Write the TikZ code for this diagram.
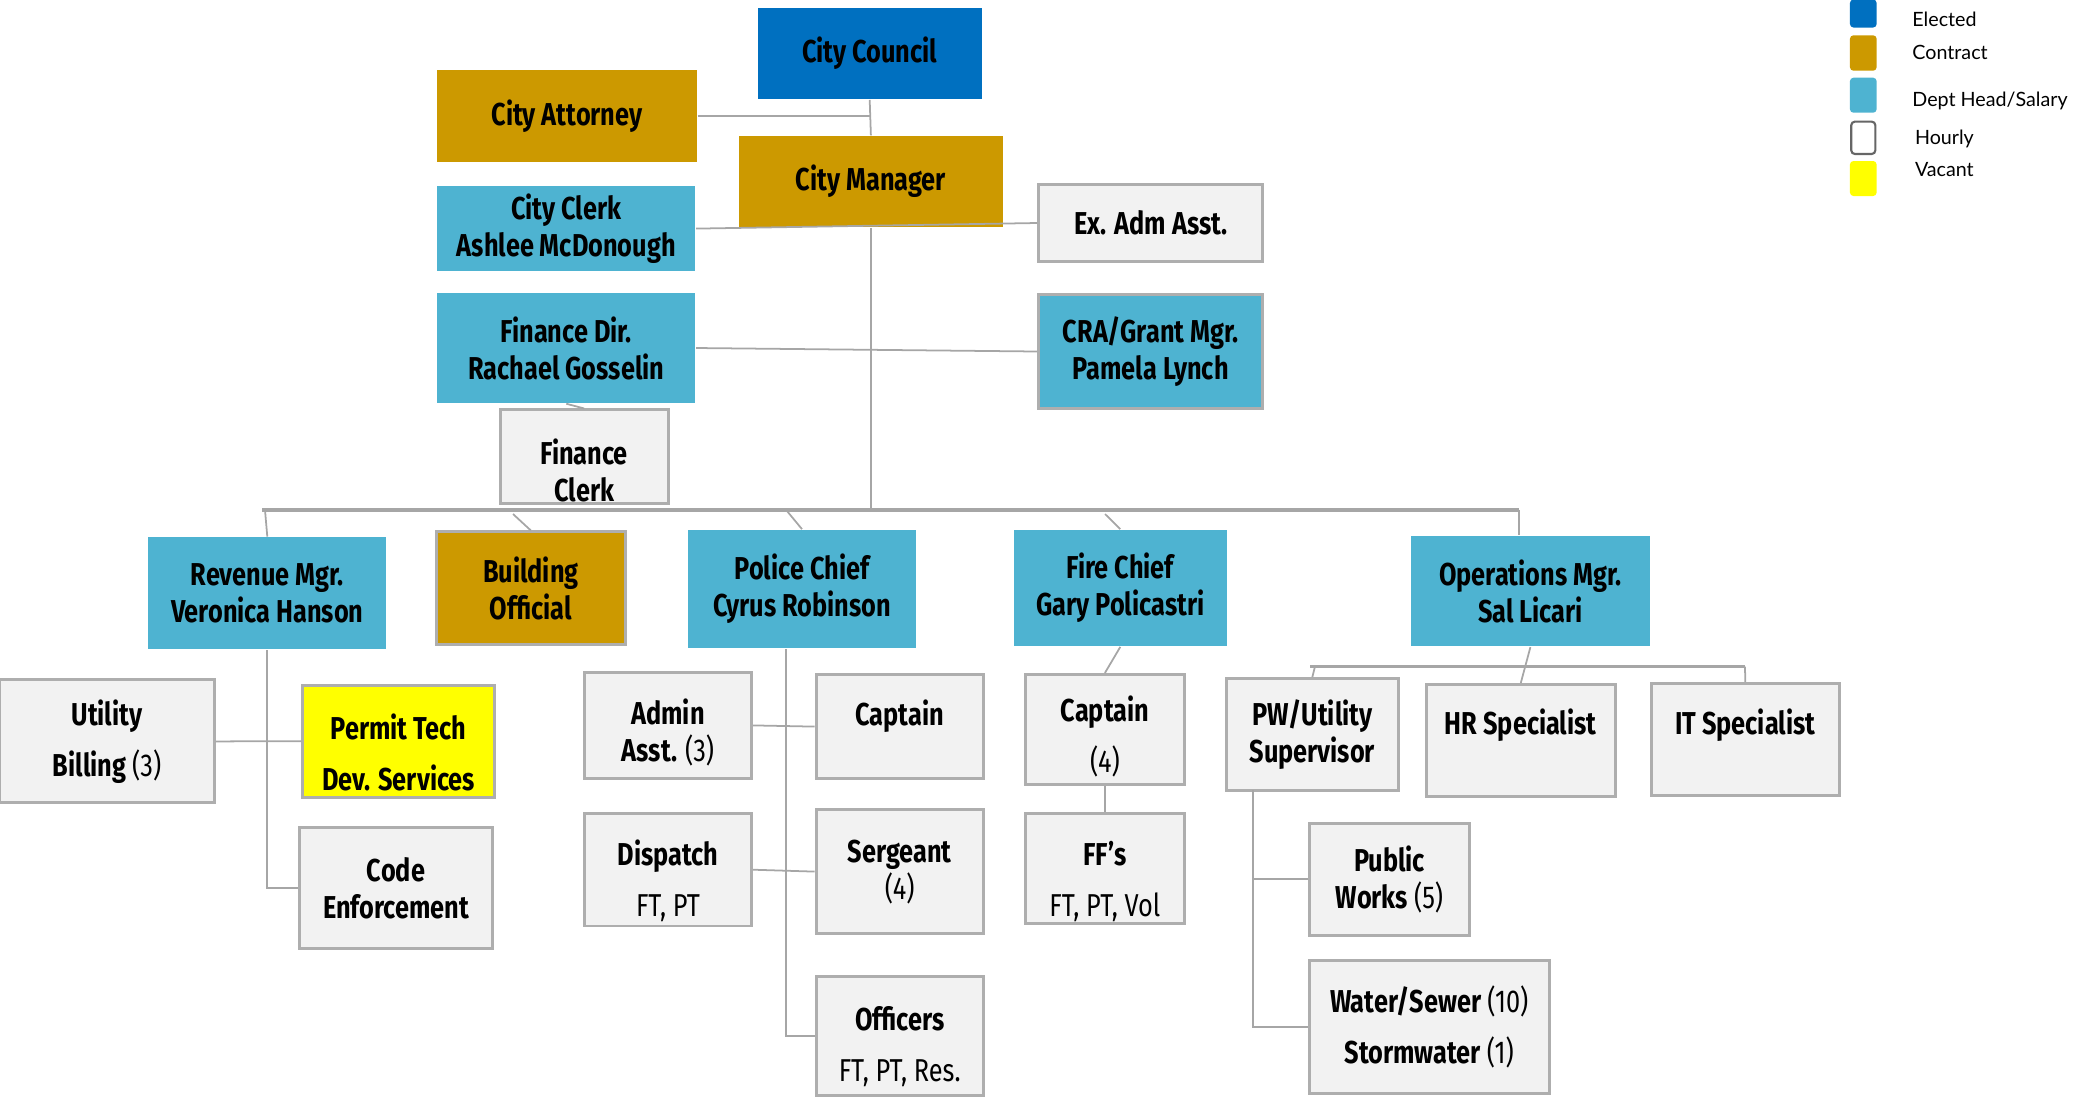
\documentclass[tikz,border=0pt]{standalone}
\usepackage{fontspec}
\setmainfont{Fira Sans}[FakeStretch=0.8]
\newfontfamily\keyfont{Lato}
\definecolor{elected}{HTML}{0070C0}
\definecolor{contract}{HTML}{CC9900}
\definecolor{head}{HTML}{4EB3D1}
\definecolor{hourly}{HTML}{F2F2F2}
\definecolor{vacant}{HTML}{FFFF00}
\definecolor{edge}{HTML}{AEAEAE}
\definecolor{wire}{HTML}{A6A6A6}
\tikzset{
  box/.style={rectangle, inner sep=0pt, align=center, font=\fontsize{9}{10.5}\selectfont\bfseries},
  tallrows/.style={font=\fontsize{9}{14.5}\selectfont\bfseries},
  lbl/.style={align=center, font=\fontsize{9}{10.5}\selectfont\bfseries},
  elected/.style={box, fill=elected},
  contract/.style={box, fill=contract},
  head/.style={box, fill=head},
  hourly/.style={box, fill=hourly, draw=edge, line width=0.85pt},
  vacant/.style={box, fill=vacant, draw=edge, line width=0.85pt},
  keybox/.style={rectangle, rounded corners=1pt, inner sep=0pt, minimum width=0.267cm},
  keytext/.style={anchor=base west, inner sep=0pt, font=\keyfont\fontsize{5.6}{6}\selectfont},
  link/.style={draw=wire, line width=0.5pt},
  bus/.style={draw=wire, line width=0.9pt}
}
\begin{document}
\begin{tikzpicture}[x=0.01cm,y=-0.01cm]
\useasboundingbox (0,0) rectangle (2074,1096);
% top of the chart
\node[elected, minimum width=2.235cm, minimum height=0.913cm] (council) at (869.7,53.6) {City Council};
\node[contract, minimum width=2.595cm, minimum height=0.912cm] (attorney) at (567,115.9) {City Attorney};
\node[contract, minimum width=2.646cm, minimum height=0.911cm] (manager) at (870.9,181.6) {City Manager};
\node[head, minimum width=2.58cm, minimum height=0.845cm] (clerk) at (566.3,228.6) {City Clerk\\Ashlee McDonough};
\node[hourly, minimum width=2.24cm, minimum height=0.76cm] (exadm) at (1150.7,223) {Ex. Adm Asst.};
\node[head, minimum width=2.58cm, minimum height=1.10cm] (findir) at (566.3,348) {Finance Dir.\\Rachael Gosselin};
\node[head, draw=edge, line width=0.85pt, minimum width=2.24cm, minimum height=1.14cm] (cra) at (1150.7,351.5) {CRA/Grant Mgr.\\Pamela Lynch};
\node[hourly, minimum width=1.676cm, minimum height=0.93cm, label={[lbl, yshift=-0.135cm]center:{Finance\\Clerk}}] (finclerk) at (584.2,456.5) {};
\draw[link] (council.south) -- (manager.north);
\draw[link] (attorney.east) -- (attorney.east -| council.south);
\draw[link] (clerk.east) -- (exadm.west);
\draw[link] (findir.east) -- (cra.west);
\draw[link] (findir.south) -- (finclerk.north);
% main bus
\coordinate (busL) at (262,510);
\coordinate (busR) at (1519,510);
\coordinate (bRev) at (265,510);
\coordinate (bBld) at (513,514);
\coordinate (bPol) at (787,511);
\coordinate (bFire) at (1105,514);
\draw[link] (manager.south) -- (manager.south |- busL);
\draw[bus] (busL) -- (busR);
% department heads
\node[head, minimum width=2.38cm, minimum height=1.12cm] (revenue) at (267.3,593.3) {Revenue Mgr.\\Veronica Hanson};
\node[contract, draw=edge, line width=0.85pt, minimum width=1.883cm, minimum height=1.127cm] (building) at (530.8,588.3) {Building\\Official};
\node[head, minimum width=2.285cm, minimum height=1.182cm] (police) at (802,589) {Police Chief\\Cyrus Robinson};
\node[head, minimum width=2.133cm, minimum height=1.163cm] (fire) at (1120.3,588) {Fire Chief\\Gary Policastri};
\node[head, minimum width=2.393cm, minimum height=1.106cm] (ops) at (1530.4,591.1) {Operations Mgr.\\Sal Licari};
\draw[link] (bRev) -- (revenue.north);
\draw[link] (bBld) -- (building.north);
\draw[link] (bPol) -- (police.north);
\draw[link] (bFire) -- (fire.north);
\draw[link] (busR) -- (busR |- ops.north);
% revenue and building
\node[hourly, tallrows, minimum width=2.14cm, minimum height=1.23cm] (utility) at (107,741.4) {Utility\\Billing {\mdseries(3)}};
\node[vacant, minimum width=1.914cm, minimum height=1.123cm, label={[lbl, tallrows, yshift=-0.11cm]center:{Permit Tech\\Dev. Services}}] (permit) at (398.6,741.2) {};
\node[hourly, minimum width=1.924cm, minimum height=1.214cm] (code) at (396,888) {Code\\Enforcement};
\draw[link] (utility.east) -- (permit.west);
\draw[link] (revenue.south) |- (code.west);
% police
\node[hourly, minimum width=1.67cm, minimum height=1.056cm, label={[lbl, yshift=-0.07cm]center:{Admin\\Asst. {\mdseries(3)}}}] (admin) at (668,725.4) {};
\node[hourly, minimum width=1.67cm, minimum height=1.033cm, label={[lbl, yshift=0.106cm]center:Captain}] (pcapt) at (899.7,726.6) {};
\node[hourly, minimum width=1.67cm, minimum height=1.125cm, label={[lbl, tallrows, yshift=-0.11cm]center:{Dispatch\\{\mdseries FT, PT}}}] (dispatch) at (668,869.7) {};
\node[hourly, minimum width=1.67cm, minimum height=1.24cm] (sergeant) at (899.7,871.6) {Sergeant\\{\mdseries(4)}};
\node[hourly, minimum width=1.67cm, minimum height=1.18cm, label={[lbl, tallrows, yshift=-0.11cm]center:{Officers\\{\mdseries FT, PT, Res.}}}] (officers) at (899.7,1036) {};
\draw[link] ([xshift=-0.16cm]police.south) |- (officers.west);
\draw[link] (admin.east) -- (pcapt.west);
\draw[link] (dispatch.east) -- (sergeant.west);
% fire
\node[hourly, minimum width=1.593cm, minimum height=1.098cm, label={[lbl, tallrows, yshift=-0.07cm]center:{Captain\\{\mdseries(4)}}}] (fcapt) at (1104.9,729.4) {};
\node[hourly, minimum width=1.593cm, minimum height=1.10cm, label={[lbl, tallrows, yshift=-0.13cm]center:{FF’s\\{\mdseries FT, PT, Vol}}}] (ffs) at (1104.9,868.4) {};
\draw[link] (fire.south) -- (fcapt.north);
\draw[link] (fcapt.south) -- (ffs.north);
% operations
\coordinate (oL) at (1310,666.6);
\coordinate (oR) at (1745,666.6);
\coordinate (oPW) at (1315,666.6);
\node[hourly, minimum width=1.719cm, minimum height=1.116cm] (pw) at (1312.3,734.5) {PW/Utility\\Supervisor};
\node[hourly, minimum width=1.889cm, minimum height=1.117cm, label={[lbl, yshift=0.155cm]center:HR Specialist}] (hr) at (1520.8,740.3) {};
\node[hourly, minimum width=1.88cm, minimum height=1.117cm, label={[lbl, yshift=0.144cm]center:IT Specialist}] (it) at (1745.3,739.2) {};
\node[hourly, minimum width=1.602cm, minimum height=1.117cm] (pubw) at (1389.5,879.2) {Public\\Works {\mdseries(5)}};
\node[hourly, tallrows, minimum width=2.397cm, minimum height=1.32cm] (water) at (1429.3,1027) {Water/Sewer {\mdseries(10)}\\Stormwater {\mdseries(1)}};
\coordinate (pwv) at (1253,790);
\draw[bus] (oL) -- (oR);
\draw[link] (ops.south) -- (hr.north);
\draw[link] (oPW) -- (pw.north);
\draw[link] (oR) -- (it.north);
\draw[link] (pwv) |- (water.west);
\draw[link] (pubw.west) -- (pubw.west -| pwv);
% legend
\node[keybox, fill=elected, minimum height=0.28cm] (kElected) at (1863.3,13.5) {};
\node[keybox, fill=contract, minimum height=0.354cm] (kContract) at (1863.3,53) {};
\node[keybox, fill=head, minimum height=0.35cm] (kHead) at (1863.3,95.2) {};
\node[keybox, fill=white, draw=black!60, line width=0.6pt, minimum width=0.24cm, minimum height=0.323cm] (kHourly) at (1863.3,137.8) {};
\node[keybox, fill=vacant, minimum height=0.35cm] (kVacant) at (1863.3,178.5) {};
\node[keytext] (tElected) at (1911.7,26.7) {Elected};
\node[keytext] (tContract) at (1911.7,59.3) {Contract};
\node[keytext] (tHead) at (1911.7,106.7) {Dept Head/Salary};
\node[keytext] (tHourly) at (1914.3,144) {Hourly};
\node[keytext] (tVacant) at (1914.3,176.7) {Vacant};
\end{tikzpicture}
\end{document}
